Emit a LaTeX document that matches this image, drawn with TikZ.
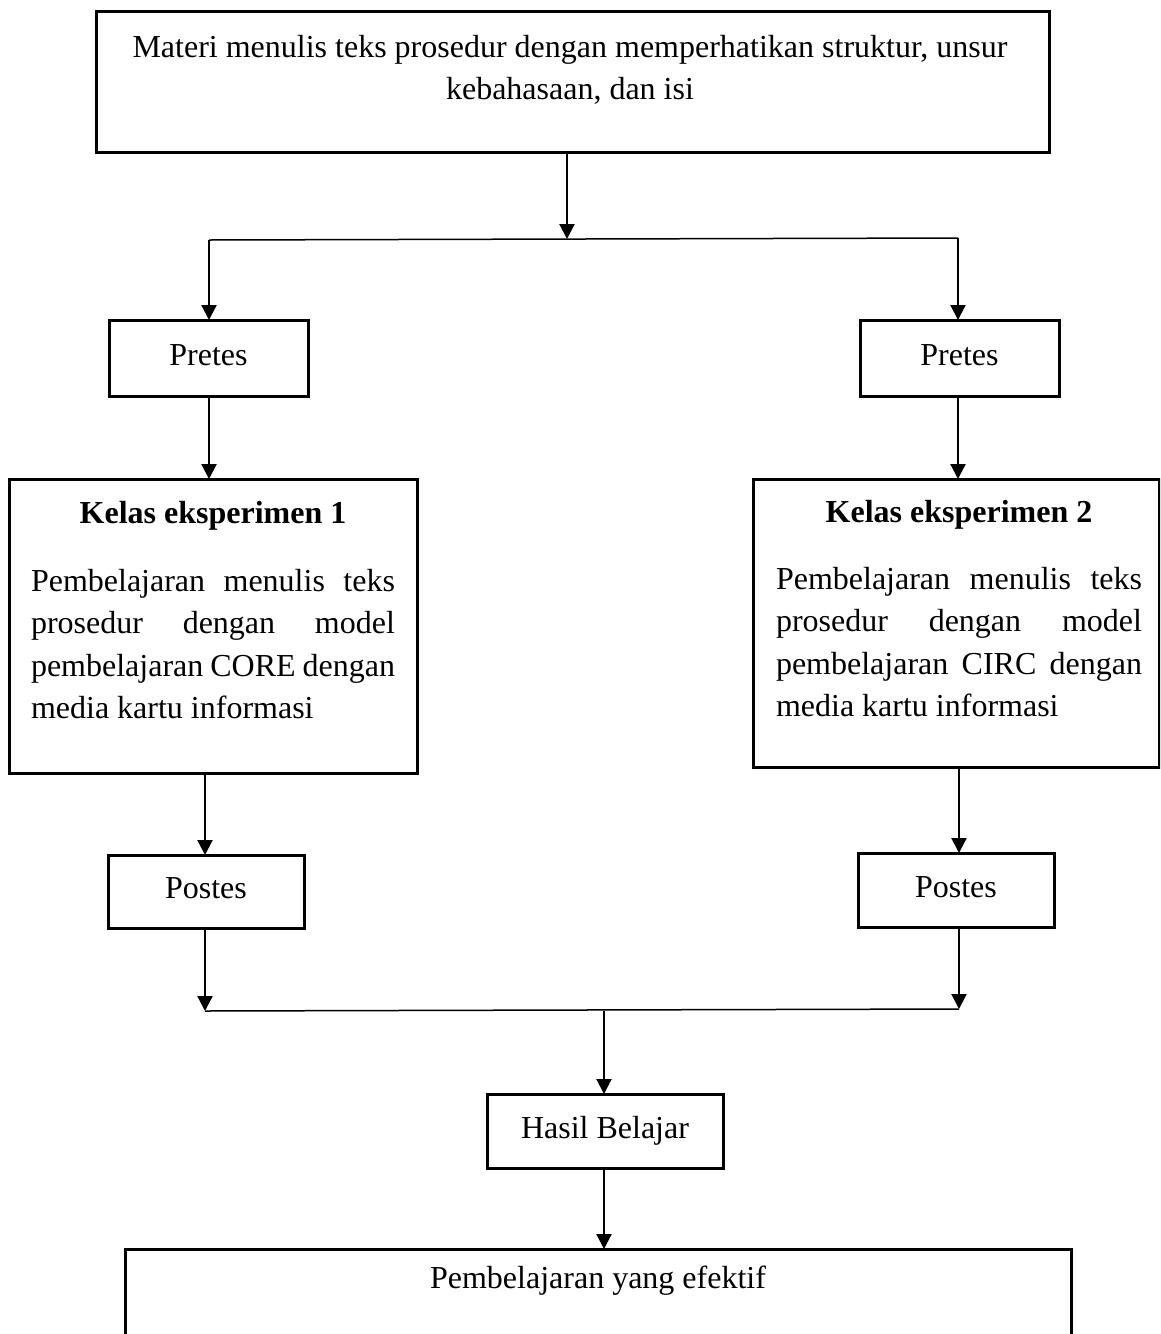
\documentclass[tikz,border=0pt]{standalone}
\usepackage{fontspec}
\setmainfont{Liberation Serif}
\usetikzlibrary{arrows.meta}
\begin{document}
\begin{tikzpicture}[x=1pt,y=-1pt,
  box/.style={draw, line width=3pt, rectangle, inner sep=0pt, outer sep=0pt, anchor=north west,
    font=\fontsize{32}{42.5}\selectfont, text height=21pt, text depth=7pt},
  txt/.style={inner sep=0pt, outer sep=0pt, font=\fontsize{32}{42.5}\selectfont},
  arr/.style={line width=2.2pt, -{Triangle[width=15pt,length=15pt]}},
  joinline/.style={line width=1.5pt}]
\useasboundingbox (0,0) rectangle (1160,1334);
\clip (0,0) rectangle (1160,1334);

% boxes
\node[box, minimum width=953pt, minimum height=141pt] (top) at (96,11) {};
\node[box, minimum width=199pt, minimum height=76pt] (pre1) at (109,320) {Pretes};
\node[box, minimum width=199pt, minimum height=76pt] (pre2) at (860,320) {Pretes};
\node[box, minimum width=408pt, minimum height=294pt] (kel1) at (9,479) {};
\node[box, minimum width=406pt, minimum height=288pt] (kel2) at (753,479) {};
\node[box, minimum width=196pt, minimum height=73pt] (post1) at (108,855) {Postes};
\node[box, minimum width=196pt, minimum height=74pt] (post2) at (858,853) {Postes};
\node[box, minimum width=236pt, minimum height=74pt] (hasil) at (487,1094) {Hasil Belajar};
\node[box, minimum width=946pt, minimum height=200pt] (fin) at (125,1249) {};

% texts
\node[txt, anchor=base, align=center] (toptext) at (570,57)
  {\parbox[t]{950pt}{\centering Materi menulis teks prosedur dengan memperhatikan struktur, unsur\\ kebahasaan, dan isi}};
\node[txt, anchor=base] (k1title) at (213,523) {\bfseries Kelas eksperimen 1};
\node[txt, anchor=base west] (k1body) at (31,591)
  {\parbox[t]{364pt}{\makebox[364pt][s]{Pembelajaran menulis teks}\\
   \makebox[364pt][s]{prosedur dengan model}\\
   \makebox[364pt][s]{pembelajaran CORE dengan}\\
   media kartu informasi}};
\node[txt, anchor=base] (k2title) at (959,522) {\bfseries Kelas eksperimen 2};
\node[txt, anchor=base west] (k2body) at (776,589)
  {\parbox[t]{366pt}{\makebox[366pt][s]{Pembelajaran menulis teks}\\
   \makebox[366pt][s]{prosedur dengan model}\\
   \makebox[366pt][s]{pembelajaran CIRC dengan}\\
   media kartu informasi}};
\node[txt, anchor=base] (fintext) at (598,1288) {Pembelajaran yang efektif};

% junction coordinates
\coordinate (j1) at (567,239);
\coordinate (jl) at (209,240);
\coordinate (jr) at (958,238);
\coordinate (bl) at (205,1011);
\coordinate (br) at (959,1009);
\coordinate (bj) at (604,1011);

% connectors
\draw[arr] (top.south -| j1) -- (j1);
\draw[joinline] (jl) -- (jr);
\draw[arr] (jl) -- (jl |- pre1.north);
\draw[arr] (jr) -- (jr |- pre2.north);
\draw[arr] (jl |- pre1.south) -- (jl |- kel1.north);
\draw[arr] (jr |- pre2.south) -- (jr |- kel2.north);
\draw[arr] (bl |- kel1.south) -- (bl |- post1.north);
\draw[arr] (br |- kel2.south) -- (br |- post2.north);
\draw[arr] (bl |- post1.south) -- (bl);
\draw[arr] (br |- post2.south) -- (br);
\draw[joinline] (bl) -- (br);
\draw[arr] (bj) -- (bj |- hasil.north);
\draw[arr] (bj |- hasil.south) -- (bj |- fin.north);
\end{tikzpicture}
\end{document}
